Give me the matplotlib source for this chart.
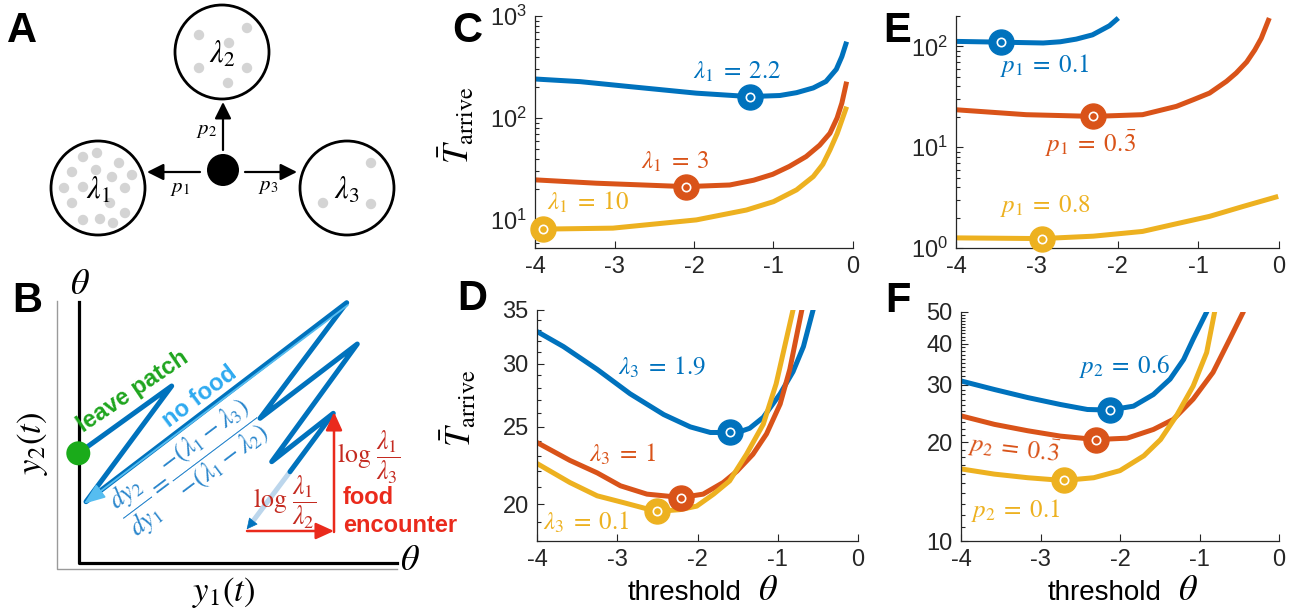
import numpy as np
import matplotlib.pyplot as plt
from matplotlib.patches import Circle, FancyArrowPatch
from matplotlib.ticker import FixedLocator, NullFormatter

plt.rcParams['font.family'] = ['Liberation Sans', 'DejaVu Sans']
plt.rcParams['mathtext.fontset'] = 'stix'

W, H = 1301, 616
BLUE, ORANGE, YELLOW = '#0072BD', '#D95319', '#EDB120'
AXC = '#262626'

# ---- C: arrival time vs threshold, varying lambda_1 ----
c_blue_x = [-4, -3.43, -2.81, -1.97, -1.30, -0.92, -0.71, -0.50, -0.34, -0.21, -0.14, -0.08]
c_blue_y = [241, 227, 203, 175, 162, 166, 177, 197, 228, 300, 400, 560]
c_orange_x = [-4, -3.23, -2.10, -1.55, -1.25, -1.01, -0.80, -0.59, -0.42, -0.29, -0.20, -0.14, -0.08]
c_orange_y = [24.7, 22.9, 21.2, 22.0, 24.5, 28.0, 33.5, 41.8, 54, 70.8, 100, 140, 227]
c_yellow_x = [-4, -3.02, -1.97, -1.34, -1.0, -0.71, -0.50, -0.38, -0.29, -0.20, -0.14, -0.08]
c_yellow_y = [8.1, 8.3, 10.0, 12.5, 15.1, 19.7, 26.6, 35, 48.5, 70, 95, 129]
c_opt = [(-1.30, 162), (-2.10, 21.2), (-3.90, 8.1)]
c_labels = [r'$\lambda_1 \;=\; 2.2$', r'$\lambda_1 \;=\; 3$', r'$\lambda_1 \;=\; 10$']
c_label_pos = [(-1.46, 283), (-2.23, 37), (-3.33, 14.7)]

# ---- D: varying lambda_3 ----
d_blue_x = [-4, -3.67, -3.25, -2.84, -2.42, -2.09, -1.84, -1.60, -1.45, -1.35, -1.18,
            -0.97, -0.81, -0.68, -0.56, -0.5]
d_blue_y = [32.9, 31.5, 29.5, 27.5, 25.9, 25.0, 24.6, 24.6, 24.7, 24.9, 25.7,
            27.5, 29.3, 31.5, 35, 37]
d_orange_x = [-4, -3.59, -3.25, -2.96, -2.63, -2.20, -1.93, -1.68, -1.51, -1.31,
              -1.14, -0.97, -0.85, -0.70, -0.65]
d_orange_y = [23.9, 22.7, 21.9, 21.1, 20.6, 20.4, 20.6, 21.3, 22.0, 23.1,
              24.5, 26.7, 29.5, 35, 37]
d_yellow_x = [-4, -3.59, -3.25, -2.92, -2.51, -2.22, -2.01, -1.80, -1.60, -1.39,
              -1.18, -1.02, -0.81, -0.77]
d_yellow_y = [22.5, 21.3, 20.5, 20.1, 19.6, 19.7, 19.9, 20.6, 21.4, 23.1,
              25.2, 28.3, 35, 37]
d_opt = [(-1.60, 24.6), (-2.20, 20.4), (-2.51, 19.6)]
d_labels = [r'$\lambda_3 \;=\; 1.9$', r'$\lambda_3 \;=\; 1$', r'$\lambda_3 \;=\; 0.1$']
d_label_pos = [(-2.44, 29.7), (-2.93, 23.1), (-3.38, 19.0)]

# ---- E: varying p_1 ----
e_blue_x = [-4, -3.44, -2.92, -2.71, -2.51, -2.31, -2.10, -1.99]
e_blue_y = [112, 110, 108, 111, 118, 130, 160, 191]
e_orange_x = [-4, -3.13, -2.30, -1.69, -1.27, -1.06, -0.86, -0.65, -0.53, -0.40, -0.30, -0.22, -0.12]
e_orange_y = [23.5, 21, 20.2, 21, 25.4, 29.6, 34.4, 45, 54.4, 70, 92, 120, 191]
e_yellow_x = [-4, -2.94, -2.30, -1.69, -1.27, -0.86, -0.44, -0.01]
e_yellow_y = [1.26, 1.24, 1.31, 1.46, 1.74, 2.06, 2.59, 3.25]
e_opt = [(-3.44, 110), (-2.30, 20.2), (-2.94, 1.24)]
e_labels = [r'$p_1 \;=\; 0.1$', r'$p_1 \;=\; 0.\!\bar{3}$', r'$p_1 \;=\; 0.8$']
e_label_pos = [(-2.90, 64.9), (-2.33, 10.7), (-2.90, 2.6)]

# ---- F: varying p_2 ----
f_blue_x = [-4, -3.58, -3.16, -2.75, -2.41, -2.13, -1.83, -1.58, -1.37, -1.20,
            -1.08, -0.91, -0.87]
f_blue_y = [30.8, 29.0, 27.4, 26.1, 25.2, 25.1, 25.8, 28.0, 31.2, 35.8,
            41.3, 50, 53]
f_orange_x = [-4, -3.58, -3.16, -2.75, -2.30, -1.91, -1.58, -1.33, -1.08, -0.83,
              -0.62, -0.45, -0.42]
f_orange_y = [24.1, 22.7, 21.7, 20.9, 20.4, 20.6, 21.9, 23.5, 27.1, 32.7,
              41.3, 50, 53]
f_yellow_x = [-4, -3.58, -3.16, -2.71, -2.33, -2.00, -1.70, -1.49, -1.29, -1.08,
              -0.91, -0.81, -0.78]
f_yellow_y = [16.6, 16.0, 15.6, 15.3, 15.6, 16.4, 18.2, 20.4, 24.1, 29.7,
              37.6, 50, 53]
f_opt = [(-2.13, 25.1), (-2.30, 20.4), (-2.71, 15.3)]
f_labels = [r'$p_2 \;=\; 0.6$', r'$p_2 \;=\; 0.\!\bar{3}$', r'$p_2 \;=\; 0.1$']
f_label_pos = [(-1.94, 34.2), (-3.33, 19.2), (-3.31, 12.4)]

# ---- B: schematic trajectory (pixel units) ----
traj_x = [333.3, 271.7, 357.3, 260.0, 346.7, 86.0, 171.7, 78.3]
traj_y = [413.3, 461.7, 344.0, 418.3, 302.7, 501.7, 386.0, 453.3]
traj_start = (246.7, 529.3)
traj_fade = (290.0, 471.7)

fig = plt.figure(figsize=(W / 100, H / 100), dpi=100)


def px_axes(l, t, r, b):
    return fig.add_axes([l / W, 1 - b / H, (r - l) / W, (b - t) / H])


def ftext(x, y, s, **kw):
    return fig.text(x / W, 1 - y / H, s, **kw)


def arrow(ax, p0, p1, color, lw, hl, hw, z=3):
    ax.add_patch(FancyArrowPatch(p0, p1, arrowstyle=f'-|>,head_length={hl},head_width={hw}',
                                 mutation_scale=1, color=color, lw=lw,
                                 shrinkA=0, shrinkB=0, zorder=z))


# left column schematics
sk = fig.add_axes([0, 0, 440 / W, 1])
sk.set_xlim(0, 440)
sk.set_ylim(H, 0)
sk.axis('off')

# A: three patches
patches = [((222, 52), r'$\lambda_2$', [(199, 35), (247, 28), (229, 43), (199, 68), (247, 68), (228, 83)]),
           ((98, 188), r'$\lambda_1$', [(83, 157), (97, 153), (72, 172), (96, 170), (119, 163), (132, 175),
                                        (112, 177), (64, 188), (83, 187), (125, 188), (72, 203), (110, 203),
                                        (125, 213), (83, 220), (100, 219), (113, 223)]),
           ((347, 188), r'$\lambda_3$', [(371, 163), (323, 203), (371, 204)])]
for (cx, cy), lab, dots in patches:
    for dx, dy in dots:
        sk.add_patch(Circle((dx, dy), 5.2, fc='#d4d4d4', ec='none', zorder=1))
    sk.add_patch(Circle((cx, cy), 47, fc='none', ec='black', lw=2, zorder=2))
    sk.text(cx, cy + 3, lab, fontsize=22, ha='center', va='center', zorder=3)
sk.add_patch(Circle((223, 170), 16, fc='black', ec='none', zorder=3))
arrow(sk, (223, 150), (223, 102), 'black', 1.6, 10, 5)
arrow(sk, (200, 172), (147, 172), 'black', 1.6, 10, 5)
arrow(sk, (245, 172), (297, 172), 'black', 1.6, 10, 5)
sk.text(207, 130, r'$p_2$', fontsize=15, ha='center', va='center')
sk.text(180, 188, r'$p_1$', fontsize=15, ha='center', va='center')
sk.text(268, 187, r'$p_3$', fontsize=15, ha='center', va='center')

# B: log-likelihood plane
sk.plot([57, 57, 397], [301, 569, 569], color='#9a9a9a', lw=1, zorder=1)
sk.plot([79, 79, 397], [302, 563, 563], color='black', lw=2.3, zorder=2)
sk.text(80, 285, r'$\theta$', fontsize=26, ha='center', va='center')
sk.text(410, 560, r'$\theta$', fontsize=26, ha='center', va='center')
sk.text(224, 592, r'$y_1(t)$', fontsize=25, ha='center', va='center')
sk.text(33, 443, r'$y_2(t)$', fontsize=25, ha='center', va='center', rotation=90)

sk.plot([traj_fade[0], traj_start[0] + 5], [traj_fade[1], traj_start[1] - 6.5],
        color='#bcd6ec', lw=3.6, solid_capstyle='butt', zorder=3)
arrow(sk, (traj_start[0] + 6, traj_start[1] - 7.5), traj_start, BLUE, 0.5, 7, 3.5, z=4)
sk.plot([traj_fade[0]] + traj_x, [traj_fade[1]] + traj_y, color=BLUE, lw=3.6,
        solid_joinstyle='round', solid_capstyle='round', zorder=4)
arrow(sk, (traj_x[4] + 1, traj_y[4] + 2.5), (traj_x[5] - 2, traj_y[5] + 2),
      '#56bdf0', 1.3, 13, 5, z=5)
sk.add_patch(Circle((traj_x[-1], traj_y[-1]), 12, fc='#1aab1a', ec='none', zorder=6))

arrow(sk, (247, 531), (334, 531), '#ea2a1c', 1.8, 11, 5, z=5)
arrow(sk, (334, 532), (334, 412), '#ea2a1c', 1.8, 11, 5, z=5)

sk.text(133, 392, 'leave patch', color='#1fa51f', fontsize=17, fontweight='bold',
        rotation=34, rotation_mode='anchor', ha='center', va='center')
sk.text(200, 397, 'no food', color='#2eaaf0', fontsize=17, fontweight='bold',
        rotation=37, rotation_mode='anchor', ha='center', va='center')
sk.text(190, 468, r'$\dfrac{dy_2}{dy_1} = \dfrac{-(\lambda_1-\lambda_3)}{-(\lambda_1-\lambda_2)}$',
        color='#2a86cc', fontsize=18.5, rotation=37, rotation_mode='anchor',
        ha='center', va='center')
sk.text(285, 502, r'$\log\,\dfrac{\lambda_1}{\lambda_2}$', color='#c42a20', fontsize=18.5,
        ha='center', va='center', zorder=6)
sk.text(369, 457, r'$\log\,\dfrac{\lambda_1}{\lambda_3}$', color='#c42a20', fontsize=18.5,
        ha='center', va='center')
sk.text(343, 498, 'food', color='#ea2a1c', fontsize=17, fontweight='bold',
        ha='left', va='center')
sk.text(343, 525, 'encounter', color='#ea2a1c', fontsize=17, fontweight='bold',
        ha='left', va='center')


def panel(rect, curves, opt, labels, label_pos, ylim, major, major_lab, minor):
    ax = px_axes(*rect)
    for (x, y), c in zip(curves, [BLUE, ORANGE, YELLOW]):
        ax.plot(x, y, color=c, lw=3.6, solid_capstyle='butt', solid_joinstyle='round', zorder=2)
    for (x, y), c in zip(opt, [BLUE, ORANGE, YELLOW]):
        ax.plot([x], [y], 'o', ms=18, color=c, zorder=3, clip_on=False)
        ax.plot([x], [y], 'o', ms=6, mfc='none', mec='white', mew=1.2, zorder=4, clip_on=False)
    for s, (x, y), c in zip(labels, label_pos, [BLUE, ORANGE, YELLOW]):
        ax.text(x, y, s, color=c, fontsize=18, ha='center', va='center', zorder=5)
    ax.set_yscale('log')
    ax.set_xlim(-4, 0)
    ax.set_ylim(*ylim)
    ax.set_xticks([-4, -3, -2, -1, 0])
    ax.set_xticklabels(['-4', '-3', '-2', '-1', '0'])
    ax.yaxis.set_major_locator(FixedLocator(major))
    ax.set_yticklabels(major_lab)
    ax.yaxis.set_minor_locator(FixedLocator(minor))
    ax.yaxis.set_minor_formatter(NullFormatter())
    for sp in ['top', 'right']:
        ax.spines[sp].set_visible(False)
    for sp in ['left', 'bottom']:
        ax.spines[sp].set_color(AXC)
        ax.spines[sp].set_linewidth(0.9)
    ax.tick_params(which='both', direction='in', colors=AXC, labelsize=17, width=0.8)
    ax.tick_params(which='major', length=5, pad=6)
    ax.tick_params(which='minor', length=3)
    ax.patch.set_alpha(0)
    return ax


dec_minor = lambda lo, hi: [m * 10 ** k for k in range(lo, hi) for m in range(2, 10)]

panel((535, 16, 853, 248), [(c_blue_x, c_blue_y), (c_orange_x, c_orange_y), (c_yellow_x, c_yellow_y)],
      c_opt, c_labels, c_label_pos, (5.3, 1000), [10, 100, 1000],
      [r'$\mathregular{10^{1}}$', r'$\mathregular{10^{2}}$', r'$\mathregular{10^{3}}$'], dec_minor(0, 3))
panel((537, 310, 858, 541), [(d_blue_x, d_blue_y), (d_orange_x, d_orange_y), (d_yellow_x, d_yellow_y)],
      d_opt, d_labels, d_label_pos, (18, 35), [20, 25, 30, 35], ['20', '25', '30', '35'],
      [v for v in range(18, 36) if v % 5])
panel((956, 16, 1279, 248), [(e_blue_x, e_blue_y), (e_orange_x, e_orange_y), (e_yellow_x, e_yellow_y)],
      e_opt, e_labels, e_label_pos, (1, 200), [1, 10, 100],
      [r'$\mathregular{10^{0}}$', r'$\mathregular{10^{1}}$', r'$\mathregular{10^{2}}$'], dec_minor(0, 3))
fax = panel((961, 312, 1279, 541), [(f_blue_x, f_blue_y), (f_orange_x, f_orange_y), (f_yellow_x, f_yellow_y)],
            f_opt, f_labels, f_label_pos, (10, 50), [10, 20, 30, 40, 50], ['10', '20', '30', '40', '50'],
            [v for v in range(11, 50) if v % 10])
fax.texts[1].set_rotation(-7)

# axis titles
ftext(457, 125, r'$\bar{T}_{\mathrm{arrive}}$', fontsize=25, rotation=90, ha='center', va='center')
ftext(459, 408, r'$\bar{T}_{\mathrm{arrive}}$', fontsize=25, rotation=90, ha='center', va='center')
for xc, xt in ((685, 768), (1105, 1188)):
    ftext(xc, 593, 'threshold', fontsize=20, ha='center', va='center', color='black')
    ftext(xt, 590, r'$\theta$', fontsize=26, ha='center', va='center', color='black')

# panel letters
for s, x, y in [('A', 7, 42), ('B', 12, 312), ('C', 452, 42), ('D', 457, 310),
                ('E', 883, 42), ('F', 885, 312)]:
    ftext(x, y, s, fontsize=30, fontweight='bold', ha='left', va='baseline')

fig.savefig('out.png', dpi=100)
